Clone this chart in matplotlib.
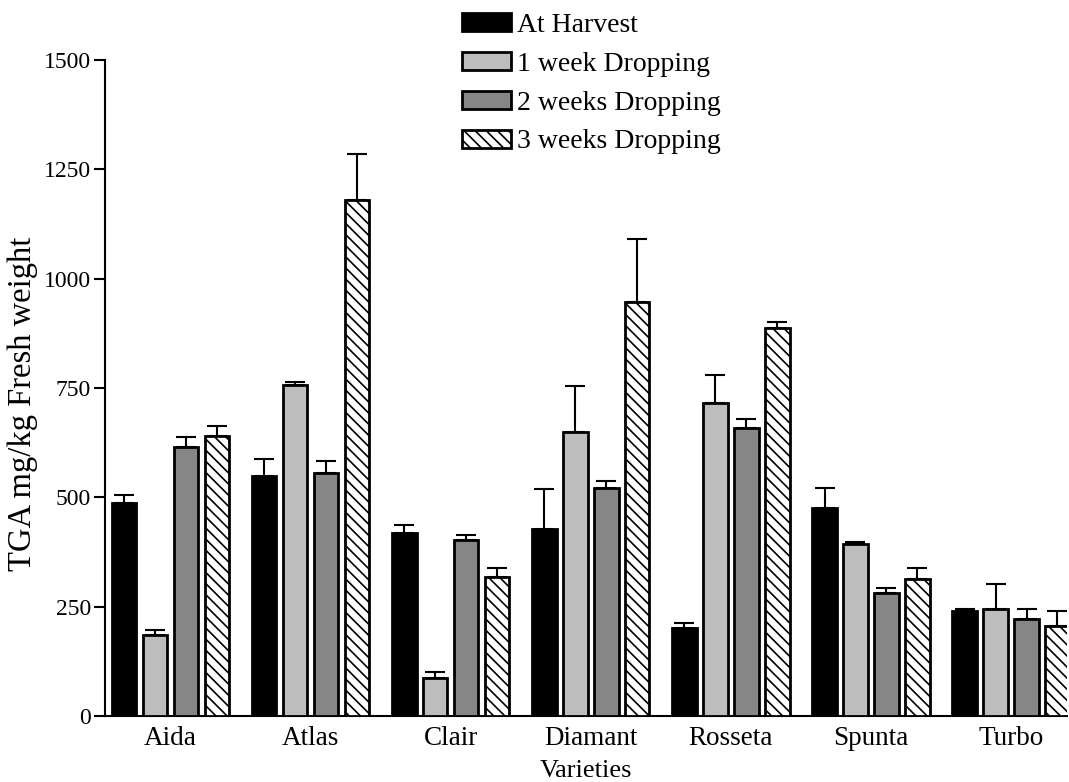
import matplotlib.pyplot as plt
import matplotlib
import numpy as np

matplotlib.rcParams['font.family'] = ['Liberation Serif', 'DejaVu Serif']
matplotlib.rcParams['hatch.linewidth'] = 1.2

# data
varieties = ['Aida', 'Atlas', 'Clair', 'Diamant', 'Rosseta', 'Spunta', 'Turbo']
series_names = ['At Harvest', '1 week Dropping', '2 weeks Dropping', '3 weeks Dropping']
at_harvest = [487, 548, 418, 428, 202, 476, 240]
week1 = [185, 757, 88, 650, 715, 394, 245]
week2 = [615, 556, 402, 521, 658, 282, 222]
week3 = [640, 1180, 317, 947, 887, 314, 206]
err_harvest = [18, 40, 19, 92, 11, 46, 5]
err_week1 = [12, 6, 12, 105, 65, 4, 57]
err_week2 = [23, 26, 11, 17, 20, 10, 22]
err_week3 = [23, 105, 21, 143, 13, 24, 35]

values = [at_harvest, week1, week2, week3]
errors = [err_harvest, err_week1, err_week2, err_week3]

# styles: black, light gray grid, darker gray dots, diagonal hatch
faces = ['black', '#bdbdbd', '#868686', 'white']
hatches = [None, None, None, '\\\\\\']

fig = plt.figure(figsize=(10.69, 7.82), dpi=100)
ax = fig.add_axes([0.0982, 0.0844, 0.9, 0.8389])

x = np.arange(len(varieties))
step = 0.221
width = 0.175
for i in range(4):
    pos = x + (i - 1.5) * step
    ax.bar(pos, values[i], width, color=faces[i], edgecolor='black',
           linewidth=2, hatch=hatches[i], label=series_names[i], zorder=3)
    ax.errorbar(pos, values[i], yerr=[np.zeros(len(x)), errors[i]],
                fmt='none', ecolor='black', elinewidth=1.5, capsize=7,
                capthick=1.5, zorder=2)

ax.set_xlim(-0.468, 6.4)
ax.set_ylim(0, 1500)
ax.set_yticks([0, 250, 500, 750, 1000, 1250, 1500])
ax.set_xticks(x)
ax.set_xticklabels(varieties)
ax.tick_params(axis='x', length=0, labelsize=19.5, pad=7.5)
ax.tick_params(axis='y', length=8, width=1.5, labelsize=17, pad=2)

ax.set_xlabel('Varieties', fontsize=19, labelpad=6)
ax.set_ylabel('TGA mg/kg Fresh weight', fontsize=23.5, va='center')
ax.yaxis.set_label_coords((23 - 105) / 962, 0.4756)

ax.spines['top'].set_visible(False)
ax.spines['right'].set_visible(False)
ax.spines['left'].set_linewidth(1.5)
ax.spines['bottom'].set_linewidth(1.5)

ax.legend(loc='upper left', bbox_to_anchor=(0.371, 1.072), frameon=False,
          fontsize=20, handlelength=1.75, handleheight=0.62,
          handletextpad=0.25, labelspacing=0.5, borderaxespad=0,
          borderpad=0)

plt.savefig('out.png', dpi=100, facecolor='white')
plt.close()
